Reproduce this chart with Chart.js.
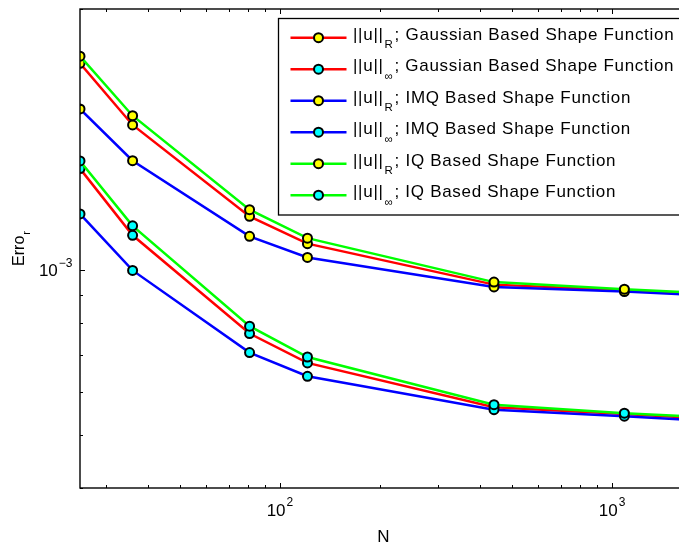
<!DOCTYPE html>
<html lang="en">
  <head>
    <meta charset="UTF-8" />
    <meta name="viewport" content="width=device-width, initial-scale=1.0" />
    <title>Error vs N</title>
    <style>
      body {
        margin: 0;
        background-color: white;
        overflow: hidden;
      }
      #wrap {
        width: 679px;
        height: 548px;
        overflow: hidden;
      }
      canvas {
        display: block;
      }
    </style>
    <script src="https://cdn.jsdelivr.net/npm/chart.js@4.4.1/dist/chart.umd.min.js"></script>
  </head>
  <body>
    <div id="wrap"><canvas id="errorChart" width="700" height="548"></canvas></div>
    <script>
      const nValues = [25, 36, 81, 121, 441, 1089, 1681];
      const gaussR = [2.387e-3, 1.842e-3, 1.254e-3, 1.118e-3, 9.41e-4, 9.19e-4, 9.07e-4];
      const gaussInf = [1.533e-3, 1.158e-3, 7.66e-4, 6.77e-4, 5.62e-4, 5.46e-4, 5.38e-4];
      const imqR = [1.97e-3, 1.585e-3, 1.153e-3, 1.055e-3, 9.32e-4, 9.14e-4, 9.03e-4];
      const imqInf = [1.267e-3, 0.999e-3, 7.07e-4, 6.4e-4, 5.56e-4, 5.41e-4, 5.33e-4];
      const iqR = [2.46e-3, 1.915e-3, 1.29e-3, 1.144e-3, 9.51e-4, 9.23e-4, 9.11e-4];
      const iqInf = [1.583e-3, 1.205e-3, 7.9e-4, 6.94e-4, 5.68e-4, 5.48e-4, 5.41e-4];

      const seriesLabels = [
        "||u||_R; Gaussian Based Shape Function",
        "||u||_∞; Gaussian Based Shape Function",
        "||u||_R; IMQ Based Shape Function",
        "||u||_∞; IMQ Based Shape Function",
        "||u||_R; IQ Based Shape Function",
        "||u||_∞; IQ Based Shape Function",
      ];
      const seriesValues = [gaussR, gaussInf, imqR, imqInf, iqR, iqInf];
      const lineColors = ["#ff0000", "#ff0000", "#0000ff", "#0000ff", "#00ff00", "#00ff00"];
      const markerColors = ["#ffff00", "#00ffff", "#ffff00", "#00ffff", "#ffff00", "#00ffff"];

      const xTickValues = [100, 1000];
      const xTickExps = ["2", "3"];
      const yTickValues = [1e-3];
      const yTickExps = ["−3"];
      const xTitle = "N";
      const yTitle = "Erro";
      const yTitleSub = "r";

      const FONT = '"Liberation Sans", Arial, Helvetica, sans-serif';

      function logTicks(min, max) {
        let out = [];
        for (let k = Math.floor(Math.log10(min)); k <= Math.ceil(Math.log10(max)); k++) {
          for (let m = 1; m <= 9; m++) {
            let v = Number((m * Math.pow(10, k)).toPrecision(6));
            if (v >= min * 0.9999 && v <= max * 1.0001) out.push({ v: v, major: m === 1 });
          }
        }
        return out;
      }

      const matlabAxes = {
        id: "matlabAxes",
        afterDraw(chart) {
          const ctx = chart.ctx;
          const a = chart.chartArea;
          const xs = chart.scales.x;
          const ys = chart.scales.y;
          ctx.save();
          ctx.strokeStyle = "#000";
          ctx.fillStyle = "#000";
          ctx.lineWidth = 1.4;
          ctx.strokeRect(a.left, a.top, a.right - a.left, a.bottom - a.top);

          ctx.lineWidth = 1;
          ctx.beginPath();
          logTicks(xs.min, xs.max).forEach((t) => {
            let px = Math.round(xs.getPixelForValue(t.v)) + 0.5;
            let len = t.major ? 5 : 3;
            ctx.moveTo(px, a.bottom);
            ctx.lineTo(px, a.bottom - len);
            ctx.moveTo(px, a.top);
            ctx.lineTo(px, a.top + len);
          });
          logTicks(ys.min, ys.max).forEach((t) => {
            let py = Math.round(ys.getPixelForValue(t.v)) + 0.5;
            let len = t.major ? 5 : 3;
            ctx.moveTo(a.left, py);
            ctx.lineTo(a.left + len, py);
            ctx.moveTo(a.right, py);
            ctx.lineTo(a.right - len, py);
          });
          ctx.stroke();

          // tick labels 10^k
          ctx.textBaseline = "alphabetic";
          ctx.textAlign = "left";
          xTickValues.forEach((v, i) => {
            let px = xs.getPixelForValue(v);
            ctx.font = "17px " + FONT;
            let wb = ctx.measureText("10").width;
            ctx.font = "12px " + FONT;
            let we = ctx.measureText(xTickExps[i]).width;
            let x0 = px - (wb + we + 1) / 2;
            ctx.font = "17px " + FONT;
            ctx.fillText("10", x0, a.bottom + 28);
            ctx.font = "12px " + FONT;
            ctx.fillText(xTickExps[i], x0 + wb + 1, a.bottom + 18);
          });
          yTickValues.forEach((v, i) => {
            let py = ys.getPixelForValue(v);
            ctx.font = "12px " + FONT;
            let we = ctx.measureText(yTickExps[i]).width;
            ctx.font = "17px " + FONT;
            let wb = ctx.measureText("10").width;
            let x0 = a.left - 7.5 - we - 1 - wb;
            ctx.fillText("10", x0, py + 6);
            ctx.font = "12px " + FONT;
            ctx.fillText(yTickExps[i], x0 + wb + 1, py - 3.5);
          });

          // axis titles
          ctx.font = "17px " + FONT;
          ctx.textAlign = "center";
          ctx.fillText(xTitle, (a.left + a.right) / 2, a.bottom + 53.5);

          ctx.textAlign = "left";
          ctx.font = "16px " + FONT;
          let tw = ctx.measureText(yTitle).width;
          ctx.font = "11px " + FONT;
          let sw = ctx.measureText(yTitleSub).width;
          ctx.translate(24, (a.top + a.bottom) / 2);
          ctx.rotate(-Math.PI / 2);
          let start = -(tw + sw + 1) / 2;
          ctx.font = "16px " + FONT;
          ctx.fillText(yTitle, start, 0);
          ctx.font = "11px " + FONT;
          ctx.fillText(yTitleSub, start + tw + 1, 5.5);
          ctx.restore();

          // legend box
          ctx.save();
          let bx = a.left + 198.5;
          let by = a.top + 9.5;
          ctx.fillStyle = "#fff";
          ctx.fillRect(bx, by, 440, 196.5);
          ctx.strokeStyle = "#000";
          ctx.lineWidth = 1.3;
          ctx.strokeRect(bx, by, 440, 196.5);
          chart.data.datasets.forEach((ds, i) => {
            let ry = by + 19.2 + i * 31.5;
            ctx.strokeStyle = ds.borderColor;
            ctx.lineWidth = 2.5;
            ctx.beginPath();
            ctx.moveTo(bx + 12, ry);
            ctx.lineTo(bx + 68, ry);
            ctx.stroke();
            ctx.beginPath();
            ctx.arc(bx + 40, ry, 4.5, 0, Math.PI * 2);
            ctx.fillStyle = ds.pointBackgroundColor;
            ctx.fill();
            ctx.lineWidth = 2;
            ctx.strokeStyle = "#000";
            ctx.stroke();

            let parts = ds.label.split("_");
            let pre = parts[0];
            let sub = parts[1].charAt(0);
            let rest = parts[1].slice(1);
            let tx = bx + 74.5;
            let base = ry + 2.2;
            ctx.fillStyle = "#000";
            ctx.letterSpacing = "0.7px";
            ctx.font = "17px " + FONT;
            ctx.fillText(pre, tx, base);
            tx += ctx.measureText(pre).width + 1;
            ctx.font = "11.5px " + FONT;
            ctx.fillText(sub, tx, base + 8.5);
            tx += ctx.measureText(sub).width + 1;
            ctx.font = "17px " + FONT;
            ctx.fillText(rest, tx, base);
          });
          ctx.restore();
        },
      };

      const datasets = seriesValues.map((vals, i) => {
        return {
          label: seriesLabels[i],
          data: nValues.map((n, j) => ({ x: n, y: vals[j] })),
          borderColor: lineColors[i],
          backgroundColor: lineColors[i],
          pointBackgroundColor: markerColors[i],
          pointBorderColor: "#000",
          pointBorderWidth: 2,
          pointRadius: 4.5,
          borderWidth: 2.5,
          tension: 0,
          order: seriesValues.length - 1 - i,
        };
      });

      const errorChart = new Chart(document.getElementById("errorChart"), {
        type: "line",
        data: { datasets: datasets },
        options: {
          responsive: false,
          animation: false,
          layout: { padding: { top: 9, right: 13, left: 0, bottom: 0 } },
          plugins: {
            legend: { display: false },
            tooltip: { enabled: false },
          },
          scales: {
            x: {
              type: "logarithmic",
              min: 25,
              max: 1681,
              grid: { display: false },
              border: { display: false },
              ticks: { display: false },
              afterFit: (s) => {
                s.height = 60;
              },
            },
            y: {
              type: "logarithmic",
              min: 4e-4,
              max: 3e-3,
              grid: { display: false },
              border: { display: false },
              ticks: { display: false },
              afterFit: (s) => {
                s.width = 80;
              },
            },
          },
        },
        plugins: [matlabAxes],
      });
    </script>
  </body>
</html>
